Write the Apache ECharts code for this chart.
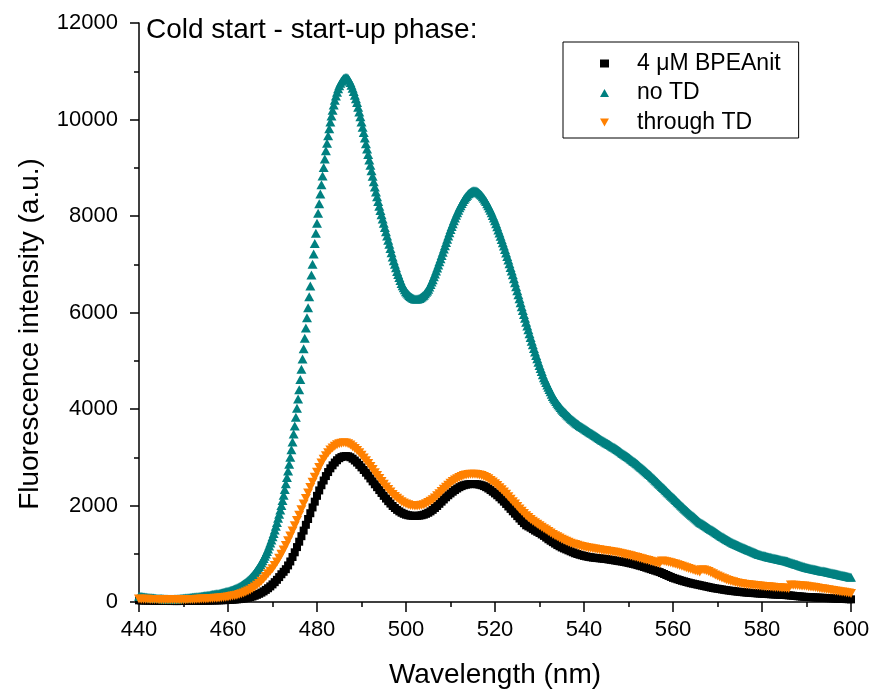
<!DOCTYPE html>
<html>
<head>
<meta charset="utf-8">
<script src="https://cdn.jsdelivr.net/npm/echarts@6/dist/echarts.min.js"></script>
<style>html,body{margin:0;padding:0;background:#fff}#c{width:874px;height:694px}</style>
</head>
<body>
<div id="c"></div>
<script>
// Wavelength grid (nm): start and sampling steps of the spectra
const wlStart = 440;
const stepNoTD = 0.25;   // "no TD" sampled every 0.25 nm
const stepOther = 0.5;   // the other two sampled every 0.5 nm

const seriesNames = ["4 \u03bcM BPEAnit", "no TD", "through TD"];
const xTicks = [440, 460, 480, 500, 520, 540, 560, 580, 600];
const yTicks = [0, 2000, 4000, 6000, 8000, 10000, 12000];

// "no TD" intensities, 440 → 600 nm, 0.25 nm steps (4 values per nm)
const noTD = [
120,116,112,108, 105,102,99,97, 95,92,90,87, 85,82,80,77, 75,74,72,71,
70,68,66,64, 62,61,60,59, 58,58,57,59, 60,62,63,65, 68,70,73,75,
78,80,83,85, 88,90,93,95, 98,100,103,105, 108,110,113,115, 118,121,124,127,
130,134,138,141, 145,149,153,156, 160,164,169,173, 178,183,188,193, 198,204,210,216,
222,229,236,243, 250,259,269,279, 290,302,314,327, 340,355,371,388, 405,425,446,468,
490,516,543,571, 600,632,666,700, 735,775,815,857, 900,948,997,1048, 1100,1160,1222,1285,
1350,1420,1494,1570, 1650,1735,1820,1908, 2000,2105,2215,2330, 2450,2580,2715,2855, 3000,3155,3315,3480,
3650,3830,4015,4205, 4400,4610,4825,5035, 5250,5465,5680,5890, 6100,6325,6550,6775, 7000,7215,7430,7640,
7850,8055,8255,8455, 8650,8830,9005,9180, 9350,9510,9665,9810, 9950,10075,10190,10300, 10400,10485,10565,10635,
10700,10750,10795,10825, 10850,10862,10868,10864, 10850,10815,10765,10712, 10650,10580,10505,10430, 10350,10255,10155,10055,
9950,9840,9728,9615, 9500,9388,9275,9162, 9050,8938,8825,8712, 8600,8500,8400,8300, 8200,8112,8025,7938,
7850,7762,7675,7588, 7500,7412,7325,7238, 7150,7075,7000,6925, 6850,6788,6725,6662, 6600,6555,6512,6470,
6430,6402,6378,6354, 6330,6315,6302,6290, 6280,6278,6280,6284, 6290,6305,6322,6340, 6360,6388,6418,6448,
6480,6528,6578,6630, 6680,6740,6800,6860, 6920,6985,7050,7115, 7180,7248,7315,7382, 7450,7518,7585,7652,
7720,7780,7840,7900, 7960,8015,8068,8120, 8170,8215,8258,8300, 8340,8372,8404,8432, 8460,8477,8494,8508,
8520,8524,8524,8518, 8510,8494,8474,8452, 8430,8398,8366,8333, 8300,8256,8212,8166, 8120,8066,8012,7956,
7900,7838,7775,7712, 7650,7582,7515,7448, 7380,7308,7235,7162, 7090,7012,6935,6858, 6780,6698,6615,6532,
6450,6368,6285,6202, 6120,6040,5960,5880, 5800,5720,5640,5560, 5480,5405,5330,5255, 5180,5110,5040,4970,
4900,4838,4775,4712, 4650,4600,4550,4500, 4450,4402,4355,4308, 4260,4225,4190,4155, 4120,4090,4060,4030,
4000,3975,3950,3925, 3900,3878,3855,3832, 3810,3790,3770,3750, 3730,3712,3695,3678, 3660,3645,3630,3615,
3600,3585,3570,3555, 3540,3525,3510,3495, 3480,3465,3450,3435, 3420,3405,3390,3375, 3360,3345,3330,3315,
3300,3288,3275,3262, 3250,3235,3220,3205, 3190,3175,3160,3145, 3130,3112,3095,3078, 3060,3045,3030,3015,
3000,2982,2965,2948, 2930,2912,2895,2878, 2860,2840,2820,2800, 2780,2760,2740,2720, 2700,2680,2660,2640,
2620,2598,2575,2552, 2530,2508,2485,2462, 2440,2418,2395,2372, 2350,2328,2305,2282, 2260,2238,2215,2192,
2170,2148,2125,2102, 2080,2058,2035,2012, 1990,1968,1945,1922, 1900,1880,1860,1840, 1820,1800,1780,1760,
1740,1720,1700,1680, 1660,1645,1630,1615, 1600,1585,1570,1555, 1540,1525,1510,1495, 1480,1465,1450,1435,
1420,1405,1390,1375, 1360,1345,1330,1315, 1300,1288,1275,1262, 1250,1238,1225,1212, 1200,1190,1180,1170,
1160,1150,1140,1130, 1120,1110,1100,1090, 1080,1070,1060,1050, 1040,1030,1020,1010, 1000,992,985,978,
970,964,958,952, 945,940,935,930, 925,918,912,906, 900,895,890,885, 880,875,870,865,
860,854,848,842, 835,828,820,812, 805,798,790,782, 775,768,760,752, 745,738,730,722,
715,710,705,700, 695,690,685,680, 675,670,665,660, 655,650,645,640, 635,630,625,620,
615,610,605,600, 595,590,585,580, 575,570,565,560, 555,550,545,540, 535,530,525,520,
515
];

// "4 μM BPEAnit" intensities, 440 → 600 nm, 0.5 nm steps
const bpeanit = [
35,33, 30,31, 30,29, 28,26, 25,26, 25,23, 22,21, 20,21, 20,19, 20,21,
22,21, 22,23, 24,24, 25,26, 26,27, 28,29, 30,31, 32,33, 35,36, 38,40,
42,45, 48,51, 55,60, 65,72, 80,90, 100,114, 130,149, 170,194, 220,251, 285,323,
365,411, 460,516, 575,626, 680,758, 840,933, 1030,1138, 1250,1364, 1480,1600, 1720,1840, 1960,2080,
2200,2312, 2420,2518, 2610,2693, 2770,2833, 2890,2938, 2980,3004, 3020,3024, 3020,3000, 2970,2932, 2890,2842,
2790,2736, 2680,2622, 2560,2500, 2440,2380, 2320,2260, 2200,2144, 2090,2040, 1990,1948, 1910,1878, 1850,1828,
1810,1798, 1790,1786, 1785,1786, 1790,1798, 1810,1828, 1850,1878, 1910,1948, 1990,2035, 2080,2125, 2170,2212,
2250,2286, 2320,2352, 2380,2402, 2420,2432, 2440,2444, 2445,2444, 2440,2432, 2420,2402, 2380,2352, 2320,2286,
2250,2212, 2170,2126, 2080,2032, 1980,1930, 1880,1830, 1780,1730, 1680,1634, 1590,1566, 1540,1510, 1480,1455,
1430,1400, 1370,1335, 1300,1270, 1240,1210, 1180,1155, 1130,1110, 1090,1070, 1050,1030, 1010,995, 980,968,
955,945, 935,928, 920,915, 910,905, 900,895, 890,882, 875,868, 860,852, 845,838, 830,820,
810,800, 790,778, 765,752, 740,725, 710,695, 680,665, 650,635, 620,600, 580,560, 540,520,
500,485, 470,455, 440,428, 415,402, 390,380, 370,360, 350,340, 330,320, 310,300, 290,282,
275,268, 260,252, 245,238, 232,226, 220,215, 210,205, 200,196, 192,188, 185,182, 178,175,
172,169, 166,163, 160,158, 155,152, 150,148, 145,142, 138,134, 130,125, 120,116, 112,108,
105,102, 100,98, 95,92, 90,88, 85,82, 80,78, 75,72, 70,68, 65,62, 60,58,
55
];

// "through TD" intensities, 440 → 600 nm, 0.5 nm steps
const throughTD = [
60,59, 58,56, 55,54, 52,51, 50,49, 48,47, 46,45, 45,45, 45,45, 46,47,
48,49, 50,51, 53,54, 56,58, 60,62, 64,67, 70,73, 76,80, 84,89, 94,100,
106,114, 122,131, 142,155, 170,187, 205,227, 250,279, 310,346, 385,429, 475,528, 585,636,
690,758, 830,908, 990,1078, 1170,1268, 1370,1474, 1580,1690, 1800,1914, 2030,2146, 2260,2372, 2480,2586,
2690,2788, 2880,2960, 3030,3094, 3150,3194, 3230,3258, 3280,3292, 3300,3294, 3280,3252, 3220,3182, 3140,3092,
3040,2986, 2930,2872, 2810,2746, 2680,2620, 2560,2500, 2440,2384, 2330,2280, 2230,2188, 2150,2114, 2080,2054,
2030,2014, 2000,1994, 1990,1991, 1995,2004, 2015,2036, 2060,2088, 2120,2158, 2200,2245, 2290,2336, 2380,2422,
2460,2496, 2530,2556, 2580,2602, 2620,2634, 2645,2649, 2650,2649, 2645,2634, 2620,2602, 2580,2552, 2520,2486,
2450,2412, 2370,2326, 2280,2232, 2180,2130, 2080,2030, 1980,1930, 1880,1834, 1790,1750, 1710,1674, 1640,1610,
1580,1550, 1520,1490, 1460,1430, 1400,1374, 1350,1324, 1300,1280, 1260,1240, 1220,1204, 1190,1174, 1160,1150,
1140,1130, 1120,1112, 1105,1098, 1090,1082, 1075,1068, 1060,1052, 1045,1038, 1030,1020, 1010,1000, 990,980,
970,958, 945,932, 920,908, 895,882, 870,858, 845,832, 820,810, 800,850, 845,835, 825,812,
800,785, 770,755, 740,725, 710,695, 680,665, 650,635, 620,670, 665,648, 630,608, 585,562,
540,520, 500,480, 460,445, 430,418, 405,395, 385,378, 370,362, 355,350, 345,340, 335,330,
325,322, 318,314, 310,306, 302,298, 295,292, 288,284, 280,350, 348,345, 342,338, 334,330,
325,318, 312,305, 298,290, 282,275, 268,260, 252,245, 238,230, 222,215, 208,200, 192,185,
178
];

const FONT = "'Liberation Sans', Arial, sans-serif";
const toPairs = (arr, step) => arr.map((v, i) => [wlStart + i * step, v]);
const plainNum = v => String(v);

const chart = echarts.init(document.getElementById('c'), null, {renderer: 'canvas'});
const tickStyle = {color: '#000', width: 1.5};
chart.setOption({
  animation: false,
  backgroundColor: '#fff',
  grid: {left: 139, right: 23, top: 23, bottom: 89, containLabel: false},
  xAxis: {
    type: 'value', min: xTicks[0], max: xTicks[xTicks.length - 1], interval: 20,
    axisLine: {show: true, lineStyle: tickStyle},
    splitLine: {show: false},
    axisTick: {show: true, inside: false, length: 10, lineStyle: tickStyle},
    minorTick: {show: true, splitNumber: 2, length: 5, lineStyle: tickStyle},
    axisLabel: {color: '#000', fontSize: 22, fontFamily: FONT, margin: 17, formatter: plainNum},
    name: 'Wavelength (nm)', nameLocation: 'middle', nameGap: 59,
    nameTextStyle: {color: '#000', fontSize: 28, fontFamily: FONT}
  },
  yAxis: {
    type: 'value', min: yTicks[0], max: yTicks[yTicks.length - 1], interval: 2000,
    axisLine: {show: true, lineStyle: tickStyle},
    splitLine: {show: false},
    axisTick: {show: true, inside: false, length: 9, lineStyle: tickStyle},
    minorTick: {show: true, splitNumber: 2, length: 5, lineStyle: tickStyle},
    axisLabel: {color: '#000', fontSize: 22, fontFamily: FONT, margin: 21, formatter: plainNum}
  },
  legend: {
    orient: 'vertical', left: 563, top: 42,
    padding: [10, 18, 4, 37], itemGap: 6.5, itemWidth: 9, itemHeight: 8,
    borderColor: '#000', borderWidth: 1, backgroundColor: '#fff',
    textStyle: {color: '#000', fontSize: 23, fontFamily: FONT, lineHeight: 22, padding: [0, 0, 0, 23]},
    data: seriesNames
  },
  graphic: [
    {type: 'text', left: 146, top: 16,
     style: {text: 'Cold start - start-up phase:', fill: '#000', font: '28px ' + FONT}},
    {type: 'text', x: 30, y: 334, rotation: Math.PI / 2,
     style: {text: 'Fluorescence intensity (a.u.)', fill: '#000', font: '28px ' + FONT,
             textAlign: 'center', textVerticalAlign: 'middle'}}
  ],
  series: [
    {name: seriesNames[0], type: 'scatter', symbol: 'rect', symbolSize: 8,
     itemStyle: {color: '#000000', opacity: 1}, data: toPairs(bpeanit, stepOther)},
    {name: seriesNames[1], type: 'scatter', symbol: 'triangle', symbolSize: [10, 9],
     itemStyle: {color: '#008080', opacity: 1}, data: toPairs(noTD, stepNoTD)},
    {name: seriesNames[2], type: 'scatter', symbol: 'path://M0,0L10,0L5,9Z', symbolSize: [10, 9],
     itemStyle: {color: '#FF8000', opacity: 1}, data: toPairs(throughTD, stepOther)}
  ]
});
</script>
</body>
</html>
